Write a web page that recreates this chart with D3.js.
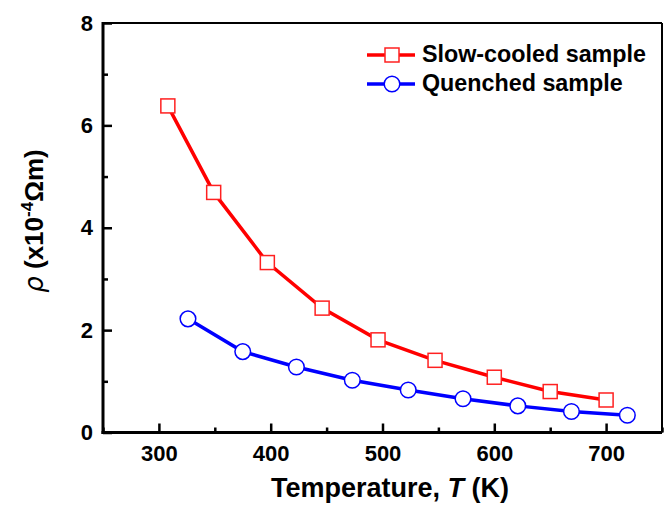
<!DOCTYPE html>
<html>
<head>
<meta charset="utf-8">
<script src="https://cdn.jsdelivr.net/npm/d3@7/dist/d3.min.js"></script>
<style>
  body { margin:0; background:white; }
  text { font-family:"Liberation Sans", Arial, sans-serif; font-weight:bold; fill:#000; }
</style>
</head>
<body>
<div id="chart"></div>
<script>
// data
var slowT = [308, 349, 397, 446, 496, 547, 600, 650, 700];
var slowRho = [6.38, 4.69, 3.32, 2.43, 1.81, 1.41, 1.08, 0.80, 0.635];
var quenchT = [326, 375, 423, 473, 523, 572, 621, 669, 719];
var quenchRho = [2.22, 1.58, 1.28, 1.02, 0.83, 0.66, 0.52, 0.41, 0.336];
var xTicks = [300, 400, 500, 600, 700];
var xMinor = [250, 350, 450, 550, 650, 750];
var yTicks = [0, 2, 4, 6, 8];
var yMinor = [1, 3, 5, 7];
var seriesNames = ["Slow-cooled sample", "Quenched sample"];

var w = 664, h = 505;
var pLeft = 103, pRight = 662, pTop = 23, pBottom = 432.5;

var svg = d3.select('#chart').append('svg')
  .attr('width', w).attr('height', h);

var x = d3.scaleLinear().domain([250, 750]).range([pLeft, pRight]);
var y = d3.scaleLinear().domain([0, 8]).range([pBottom, pTop]);

// x axis, ticks inward
var xa = svg.append('g').attr('transform', 'translate(0,' + pBottom + ')')
  .call(d3.axisBottom(x).tickValues(xTicks).tickSizeInner(-9).tickSizeOuter(0).tickPadding(13));
xa.selectAll('text').style('font-size', '22px');
svg.append('g').attr('transform', 'translate(0,' + pBottom + ')')
  .call(d3.axisBottom(x).tickValues(xMinor).tickSizeInner(-5).tickSizeOuter(0).tickFormat(''));

var ya = svg.append('g').attr('transform', 'translate(' + pLeft + ',0)')
  .call(d3.axisLeft(y).tickValues(yTicks).tickSizeInner(-9).tickSizeOuter(0).tickPadding(10));
ya.selectAll('text').style('font-size', '22px');
svg.append('g').attr('transform', 'translate(' + pLeft + ',0)')
  .call(d3.axisLeft(y).tickValues(yMinor).tickSizeInner(-5).tickSizeOuter(0).tickFormat(''));

svg.selectAll('.domain').remove();
svg.selectAll('.tick line').attr('stroke', '#000').attr('stroke-width', 2.5);

// frame
svg.append('line').attr('x1', pLeft).attr('x2', pRight).attr('y1', pTop).attr('y2', pTop)
  .attr('stroke', '#000').attr('stroke-width', 2);
svg.append('line').attr('x1', pRight).attr('x2', pRight).attr('y1', pTop).attr('y2', pBottom)
  .attr('stroke', '#000').attr('stroke-width', 2);
svg.append('line').attr('x1', pLeft).attr('x2', pLeft).attr('y1', pTop - 1).attr('y2', pBottom + 1.5)
  .attr('stroke', '#000').attr('stroke-width', 3);
svg.append('line').attr('x1', pLeft - 1.5).attr('x2', pRight).attr('y1', pBottom).attr('y2', pBottom)
  .attr('stroke', '#000').attr('stroke-width', 3);

var slow = slowT.map(function(t, i) { return [t, slowRho[i]]; });
var quench = quenchT.map(function(t, i) { return [t, quenchRho[i]]; });

var line = d3.line().x(function(d) { return x(d[0]); }).y(function(d) { return y(d[1]); });

svg.append('path').datum(slow).attr('d', line)
  .attr('fill', 'none').attr('stroke', '#ff0000').attr('stroke-width', 3.5);
svg.append('path').datum(quench).attr('d', line)
  .attr('fill', 'none').attr('stroke', '#0000ff').attr('stroke-width', 3.5);

svg.selectAll('rect.sq').data(slow).enter().append('rect')
  .attr('class', 'sq')
  .attr('x', function(d) { return x(d[0]) - 7; })
  .attr('y', function(d) { return y(d[1]) - 7; })
  .attr('width', 14).attr('height', 14)
  .attr('fill', 'white').attr('stroke', '#ff2020').attr('stroke-width', 1.5);

svg.selectAll('circle.ci').data(quench).enter().append('circle')
  .attr('class', 'ci')
  .attr('cx', function(d) { return x(d[0]); })
  .attr('cy', function(d) { return y(d[1]); })
  .attr('r', 7.8)
  .attr('fill', 'white').attr('stroke', '#0000ff').attr('stroke-width', 1.5);

// legend
var lg = svg.append('g');
lg.append('line').attr('x1', 367).attr('x2', 415).attr('y1', 55).attr('y2', 55)
  .attr('stroke', '#ff0000').attr('stroke-width', 3.5);
lg.append('rect').attr('x', 385).attr('y', 48).attr('width', 14).attr('height', 14)
  .attr('fill', 'white').attr('stroke', '#ff2020').attr('stroke-width', 1.5);
lg.append('text').attr('x', 422).attr('y', 62).style('font-size', '23.3px').text(seriesNames[0]);
lg.append('line').attr('x1', 367).attr('x2', 415).attr('y1', 84).attr('y2', 84)
  .attr('stroke', '#0000ff').attr('stroke-width', 3.5);
lg.append('circle').attr('cx', 392).attr('cy', 84).attr('r', 7.8)
  .attr('fill', 'white').attr('stroke', '#0000ff').attr('stroke-width', 1.5);
lg.append('text').attr('x', 422).attr('y', 91).style('font-size', '23.3px').text(seriesNames[1]);

// axis titles
var xt = svg.append('text').attr('x', 390).attr('y', 497).attr('text-anchor', 'middle')
  .style('font-size', '27px');
xt.append('tspan').text('Temperature, ');
xt.append('tspan').style('font-style', 'italic').text('T');
xt.append('tspan').text(' (K)');

var yt = svg.append('text').attr('transform', 'translate(43,221) rotate(-90)')
  .attr('text-anchor', 'middle').style('font-size', '26px');
yt.append('tspan').style('font-style', 'italic').style('font-weight', 'normal')
  .style('font-family', '"DejaVu Sans", sans-serif').text('ρ');
yt.append('tspan').text(' (x10');
yt.append('tspan').attr('dy', -10).style('font-size', '17px').text('-4');
yt.append('tspan').attr('dy', 10).text('Ωm)');
</script>
</body>
</html>
